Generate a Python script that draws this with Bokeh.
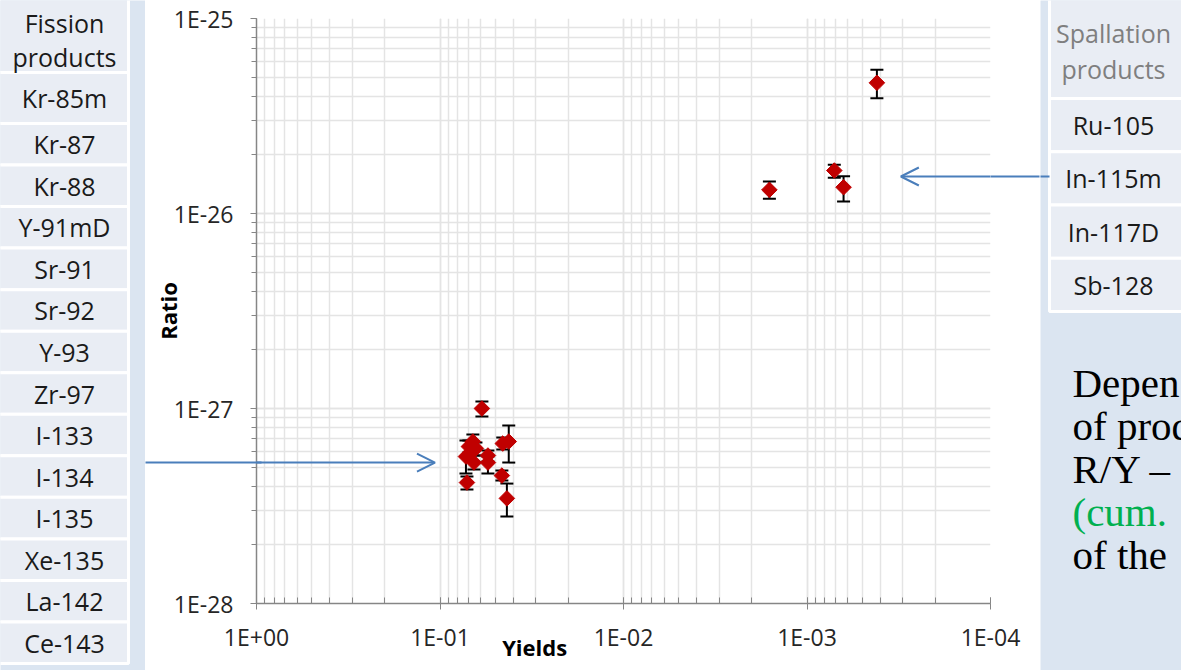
import numpy as np
from bokeh.plotting import figure
from bokeh.models import (Range1d, ColumnDataSource, Whisker, TeeHead, Arrow, OpenHead,
                          LogTicker, FixedTicker, LogAxis, CustomJSTickFormatter)
from bokeh.layouts import row
from bokeh.embed import file_html
from bokeh.resources import INLINE
from bokeh.core.properties import value

# ---------------- data ----------------
fission_products = ["Kr-85m", "Kr-87", "Kr-88", "Y-91mD", "Sr-91", "Sr-92", "Y-93",
                    "Zr-97", "I-133", "I-134", "I-135", "Xe-135", "La-142", "Ce-143"]
spallation_products = ["Ru-105", "In-115m", "In-117D", "Sb-128"]

fis_yield = [0.0591, 0.0662, 0.0696, 0.0722, 0.0670, 0.0653, 0.0713,
             0.0548, 0.0548, 0.0455, 0.0422, 0.0460, 0.0432, 0.0637]
fis_ratio = [1.00e-27, 6.77e-28, 6.38e-28, 5.67e-28, 6.02e-28, 5.28e-28, 4.17e-28,
             5.74e-28, 5.28e-28, 6.61e-28, 6.77e-28, 4.53e-28, 3.46e-28, 6.24e-28]
fis_lo = [9.10e-28, 6.24e-28, 5.95e-28, 4.64e-28, 5.41e-28, 4.87e-28, 3.84e-28,
          5.35e-28, 4.64e-28, 6.16e-28, 5.28e-28, 4.27e-28, 2.79e-28, 5.74e-28]
fis_hi = [1.086e-27, 7.36e-28, 6.85e-28, 6.85e-28, 6.54e-28, 5.74e-28, 4.48e-28,
          6.09e-28, 5.67e-28, 7.10e-28, 8.18e-28, 4.81e-28, 4.12e-28, 6.69e-28]

spl_yield = [1.603e-3, 7.10e-4, 6.32e-4, 4.16e-4]
spl_ratio = [1.322e-26, 1.661e-26, 1.364e-26, 4.68e-26]
spl_lo = [1.190e-26, 1.524e-26, 1.152e-26, 3.90e-26]
spl_hi = [1.459e-26, 1.777e-26, 1.553e-26, 5.46e-26]

x_ticks = [1.0, 1e-1, 1e-2, 1e-3, 1e-4]
x_tick_labels = ["1E+00", "1E-01", "1E-02", "1E-03", "1E-04"]
y_ticks = [1e-28, 1e-27, 1e-26, 1e-25]
y_tick_labels = ["1E-28", "1E-27", "1E-26", "1E-25"]

x_title = "Yields"
y_title = "Ratio"
fis_header = ["Fission", "products"]
spl_header = ["Spallation", "products"]
side_lines = ["Depen", "of prod", "R/Y \u2013", "(cum.", "of the"]
side_colors = ["#000000", "#000000", "#000000", "#00b050", "#000000"]

# ---------------- styles / layout ----------------
SLIDE_BG = "#dbe5f1"
CELL_BG = "#e9edf4"
RED = "#c00000"
ARROW_C = "#4a7ebb"
FONT = "Open Sans"
H = 670
X_TITLE_POS = 0.0305              # where the "Yields" title sits along the axis
FIS_ARROW = (0.1065, 5.28e-28)    # arrow tip (left arrow)
SPL_ARROW = (3.08e-4, 1.548e-26)  # arrow tip (right arrow)

fmt_code = """
let best = 0, bd = 1e9;
for (let i = 0; i < vals.length; i++) {
  const d = Math.abs(Math.log10(vals[i]) - Math.log10(tick));
  if (d < bd) { bd = d; best = i; }
}
return bd < 0.01 ? labs[best] : "";
"""

# ---------------- main chart ----------------
p = figure(width=895, height=H, x_axis_type="log", y_axis_type="log",
           x_range=Range1d(1.0, 1e-4), y_range=Range1d(1e-28, 1e-25),
           output_backend="svg", toolbar_location=None,
           min_border_left=109, min_border_right=50, min_border_top=18, min_border_bottom=67)
p.frame_align = False
p.outline_line_color = None
p.background_fill_color = "white"
p.border_fill_color = "white"

p.xaxis.ticker = LogTicker(num_minor_ticks=10)
p.yaxis.ticker = LogTicker(num_minor_ticks=10)
p.xaxis.formatter = CustomJSTickFormatter(args=dict(vals=x_ticks, labs=x_tick_labels), code=fmt_code)
p.yaxis.formatter = CustomJSTickFormatter(args=dict(vals=y_ticks, labs=y_tick_labels), code=fmt_code)

for ax in (p.xaxis, p.yaxis):
    ax.axis_line_color = "#868686"
    ax.axis_line_width = 1.5
    ax.major_tick_line_color = "#868686"
    ax.minor_tick_line_color = "#868686"
    ax.major_label_text_font = FONT
    ax.major_label_text_font_size = "23px"
    ax.major_label_text_color = "#262626"
p.xaxis.major_tick_out = 6
p.xaxis.major_tick_in = 0
p.xaxis.minor_tick_in = 6
p.xaxis.minor_tick_out = 0
p.xaxis.major_label_standoff = 11
p.yaxis.major_tick_out = 6
p.yaxis.major_tick_in = 0
p.yaxis.minor_tick_out = 5
p.yaxis.minor_tick_in = 0
p.yaxis.major_label_standoff = 17

p.yaxis.axis_label = y_title
p.yaxis.axis_label_text_font = FONT
p.yaxis.axis_label_text_font_size = "22px"
p.yaxis.axis_label_text_font_style = "bold"
p.yaxis.axis_label_text_color = "#000000"
p.yaxis.axis_label_standoff = -12

# "Yields" title as a secondary bottom axis carrying one label at its position
title_axis = LogAxis(ticker=FixedTicker(ticks=[X_TITLE_POS]),
                     formatter=CustomJSTickFormatter(args=dict(t=x_title), code="return t;"),
                     axis_line_color=None, major_tick_line_color=None, minor_tick_line_color=None,
                     major_tick_in=0, major_tick_out=0, major_label_standoff=-24,
                     major_label_text_font=FONT, major_label_text_font_size="22px",
                     major_label_text_font_style="bold", major_label_text_color="#000000")
p.add_layout(title_axis, "below")

# arrow shafts running through the left / right borders (drawn as single long ticks)
blank = CustomJSTickFormatter(code='return "";')
shaft_l = LogAxis(ticker=FixedTicker(ticks=[FIS_ARROW[1]]), formatter=blank,
                  axis_line_color=None, minor_tick_line_color=None,
                  major_tick_line_color=ARROW_C, major_tick_line_width=2,
                  major_tick_out=4, major_tick_in=112, major_label_standoff=0,
                  major_label_text_font_size="1px")
p.add_layout(shaft_l, "left")
shaft_r = LogAxis(ticker=FixedTicker(ticks=[SPL_ARROW[1]]), formatter=blank,
                  axis_line_color=None, minor_tick_line_color=None,
                  major_tick_line_color=ARROW_C, major_tick_line_width=2,
                  major_tick_out=49, major_tick_in=0, major_label_standoff=0,
                  major_label_text_font_size="1px")
p.add_layout(shaft_r, "right")

for g in (p.xgrid, p.ygrid):
    g.grid_line_color = "#e4e4e4"
    g.grid_line_width = 1.5
    g.minor_grid_line_color = "#e4e4e4"
    g.minor_grid_line_width = 1.5

fis_src = ColumnDataSource(dict(x=fis_yield, y=fis_ratio, lo=fis_lo, hi=fis_hi))
spl_src = ColumnDataSource(dict(x=spl_yield, y=spl_ratio, lo=spl_lo, hi=spl_hi))

for src in (fis_src, spl_src):
    w = Whisker(base="x", lower="lo", upper="hi", source=src, dimension="height",
                line_color="black", line_width=2, level="underlay",
                upper_head=TeeHead(size=13, line_color="black", line_width=2),
                lower_head=TeeHead(size=13, line_color="black", line_width=2))
    p.add_layout(w)
    p.scatter("x", "y", source=src, marker="square", angle=np.pi / 4, size=11,
              fill_color=RED, line_color=RED, line_width=1)

p.add_layout(Arrow(end=OpenHead(size=18, line_color=ARROW_C, line_width=2),
                   x_start=1.0, y_start=FIS_ARROW[1], x_end=FIS_ARROW[0], y_end=FIS_ARROW[1],
                   line_color=ARROW_C, line_width=2))
p.add_layout(Arrow(end=OpenHead(size=18, line_color=ARROW_C, line_width=2),
                   x_start=1e-4, y_start=SPL_ARROW[1], x_end=SPL_ARROW[0], y_end=SPL_ARROW[1],
                   line_color=ARROW_C, line_width=2))

# ---------------- left table ----------------
lf = figure(width=145, height=H, x_range=Range1d(0, 145), y_range=Range1d(670, 0),
            output_backend="svg", toolbar_location=None, min_border=0,
            x_axis_location=None, y_axis_location=None)
lf.frame_align = False
lf.grid.visible = False
lf.outline_line_color = None
lf.background_fill_color = SLIDE_BG
lf.border_fill_color = SLIDE_BG

row_h = 540 / 13
tops = [-10, 72] + [123 + row_h * k for k in range(len(fission_products) - 1)]
bots = [72, 123] + [123 + row_h * (k + 1) for k in range(len(fission_products) - 1)]
lf.quad(left=-10, right=128, top=tops, bottom=bots, fill_color=CELL_BG,
        line_color="white", line_width=3)
centers = [(t + b) / 2 for t, b in zip(tops[1:], bots[1:])]
lf.text(x=[64] * len(fission_products), y=centers, text=fission_products,
        text_font=value(FONT), text_font_size="25px", text_color="#1a1a1a",
        text_align="center", text_baseline="middle")
lf.text(x=[64, 64], y=[22, 56], text=fis_header, text_font=value(FONT),
        text_font_size="25px", text_color="#1a1a1a", text_align="center",
        text_baseline="middle")

# ---------------- right side ----------------
rf = figure(width=141, height=H, x_range=Range1d(1040, 1181), y_range=Range1d(670, 0),
            output_backend="svg", toolbar_location=None, min_border=0,
            x_axis_location=None, y_axis_location=None)
rf.frame_align = False
rf.grid.visible = False
rf.outline_line_color = None
rf.background_fill_color = SLIDE_BG
rf.border_fill_color = SLIDE_BG

rrow_h = 53.25
rtops = [-10, 98] + [98 + rrow_h * k for k in range(1, len(spallation_products))]
rbots = [98] + [98 + rrow_h * (k + 1) for k in range(len(spallation_products))]
rf.quad(left=1049, right=1200, top=rtops, bottom=rbots, fill_color=CELL_BG,
        line_color="white", line_width=3)
rcent = [(t + b) / 2 for t, b in zip(rtops[1:], rbots[1:])]
rf.text(x=[1113] * len(spallation_products), y=rcent, text=spallation_products,
        text_font=value(FONT), text_font_size="25px", text_color="#1a1a1a",
        text_align="center", text_baseline="middle")
rf.text(x=[1113, 1113], y=[32, 68], text=spl_header, text_font=value(FONT),
        text_font_size="25px", text_color="#7f7f7f", text_align="center",
        text_baseline="middle")
rf.segment(x0=[1038], y0=[176], x1=[1049], y1=[176], line_color=ARROW_C, line_width=2)
rf.text(x=[1072] * len(side_lines), y=[382 + 43 * k for k in range(len(side_lines))],
        text=side_lines, text_color=side_colors, text_font=value("Liberation Serif"),
        text_font_size="41px", text_align="left", text_baseline="middle")

layout = row(lf, p, rf, spacing=0)
open("out.html", "w").write(file_html(layout, INLINE))
